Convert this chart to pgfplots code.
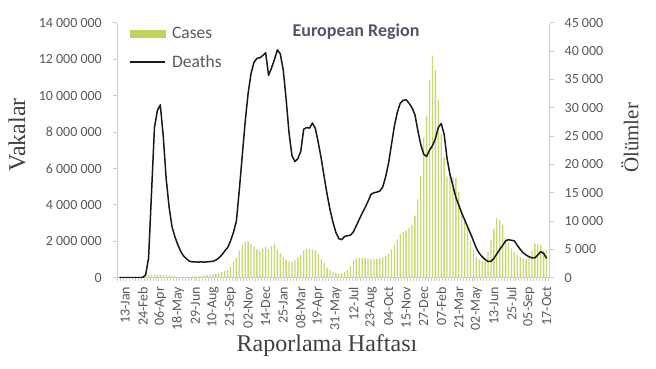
\documentclass[border=0pt]{standalone}
\usepackage{pgfplots}
\pgfplotsset{compat=1.18}
\usepackage{pgfplotstable}
\usepackage{fontspec}
\setmainfont{Carlito}
\newfontfamily\serifaxis{Liberation Serif}
\definecolor{casegreen}{RGB}{190,214,96}
\definecolor{tickgray}{RGB}{89,89,89}
\definecolor{axisgray}{RGB}{205,205,205}
\definecolor{labelgray}{RGB}{64,64,64}
\definecolor{titlecol}{RGB}{80,86,100}

\pgfplotstableread{
week cases deaths
-2 0 0
-1 1000 0
0 2000 0
1 3000 0
2 5000 0
3 8000 0
4 15000 0
5 40000 0
6 80000 50
7 120000 500
8 150000 3500
9 170000 15000
10 180000 26500
11 175000 29500
12 160000 30500
13 140000 25000
14 130000 17500
15 110000 12500
16 90000 9000
17 75000 7200
18 65000 5800
19 60000 4600
20 60000 3800
21 60000 3300
22 65000 2900
23 70000 2800
24 75000 2800
25 85000 2750
26 100000 2800
27 120000 2750
28 140000 2800
29 160000 2850
30 190000 2900
31 230000 3100
32 280000 3500
33 330000 4000
34 380000 4700
35 420000 5300
36 600000 6500
37 850000 8000
38 1100000 10000
39 1500000 15500
40 1800000 21500
41 1950000 27500
42 1980000 32500
43 1850000 36000
44 1700000 38000
45 1550000 38700
46 1500000 38800
47 1600000 39200
48 1700000 39700
49 1550000 35700
50 1750000 37000
51 1880000 38500
52 1550000 40200
53 1350000 39500
54 1150000 36700
55 1000000 31500
56 880000 25500
57 870000 21500
58 950000 20500
59 1100000 21000
60 1250000 22300
61 1500000 26200
62 1580000 26500
63 1600000 26400
64 1550000 27300
65 1500000 26300
66 1300000 23800
67 1000000 21000
68 780000 17800
69 550000 14700
70 420000 12000
71 330000 9800
72 250000 8000
73 230000 6900
74 240000 6700
75 300000 7300
76 420000 7400
77 650000 7500
78 950000 8100
79 1050000 9200
80 1080000 10300
81 1070000 11400
82 1080000 12400
83 1050000 13500
84 1000000 14700
85 1020000 15000
86 1050000 15100
87 1070000 15300
88 1100000 16000
89 1200000 17800
90 1340000 20200
91 1550000 23500
92 1800000 26800
93 2100000 29200
94 2400000 30800
95 2500000 31300
96 2600000 31400
97 2750000 30800
98 2900000 30000
99 3400000 28800
100 4300000 26000
101 5600000 23500
102 7700000 21800
103 8900000 21400
104 10850000 22500
105 12150000 23300
106 11400000 24500
107 9750000 26500
108 7900000 27200
109 6600000 25300
110 5550000 21000
111 5550000 18200
112 5550000 16200
113 5500000 14200
114 4700000 12800
115 3700000 11400
116 3200000 10200
117 2800000 9000
118 2000000 7800
119 1500000 6500
120 1150000 5200
121 1000000 4300
122 880000 3700
123 880000 3200
124 1430000 2850
125 2070000 2900
126 2700000 3400
127 3260000 4200
128 3170000 5000
129 2900000 5700
130 2200000 6500
131 1890000 6700
132 1600000 6600
133 1400000 6500
134 1250000 5700
135 1150000 5000
136 1050000 4400
137 1000000 4000
138 1100000 3700
139 1500000 3500
140 1890000 3500
141 1850000 4000
142 1800000 4600
143 1500000 4300
144 1500000 3400
}\data

\pgfplotsset{
  common/.style={
    at={(0pt,0pt)}, anchor=south west,
    scale only axis, width=432.5pt, height=255pt,
    xmin=-2.8, xmax=145, ymin=0,
    enlargelimits=false,
    axis line style={axisgray, line width=0.8pt},
    tick align=outside, major tick length=4pt,
    tick style={axisgray, line width=0.8pt},
    /pgf/number format/assume math mode=true,
    scaled y ticks=false,
    yticklabel style={font=\fontsize{14}{16}\selectfont, text=tickgray, inner sep=0pt,
      /pgf/number format/.cd, fixed, precision=0, 1000 sep={\hspace{0.22em}}},
    yticklabel shift=11pt,
  }
}

\begin{document}
\begin{tikzpicture}
\useasboundingbox (-117pt,-91.3pt) rectangle (539pt,277.7pt);
\begin{axis}[
  common,
  ymax=14000000,
  axis y line*=left, axis x line*=bottom,
  ytick={0,2000000,4000000,6000000,8000000,10000000,12000000,14000000},
  xtick={0,6,...,144},
  xticklabels={13-Jan,24-Feb,06-Apr,18-May,29-Jun,10-Aug,21-Sep,02-Nov,14-Dec,25-Jan,08-Mar,19-Apr,31-May,12-Jul,23-Aug,04-Oct,15-Nov,27-Dec,07-Feb,21-Mar,02-May,13-Jun,25-Jul,05-Sep,17-Oct},
  xticklabel style={rotate=90, anchor=east, inner sep=0pt, font=\fontsize{14}{16}\selectfont, text=tickgray},
  xticklabel shift=5pt,
  every major x tick/.append style={draw=none},
  minor xtick={-2.5,-1.5,...,144.5},
  minor tick length=3pt,
]
\addplot[ybar, bar width=0.45, fill=casegreen!90, draw=none] table[x=week,y=cases]{\data};
\end{axis}
\begin{axis}[
  common,
  ymax=45000,
  axis y line*=right, axis x line=none,
  ytick={0,5000,...,45000},
  legend style={at={(axis description cs:0.028,0.99)}, anchor=north west, draw=none, fill=none,
    font=\fontsize{17.5}{19}\selectfont, text=tickgray, row sep=11pt, inner sep=0pt},
  legend cell align=left,
]
\addlegendimage{legend image code/.code={\path[draw=none,fill=none] (0pt,-3.5pt) rectangle (40pt,3.5pt);\fill[casegreen] (0pt,-3.5pt) rectangle (35pt,3.5pt);}}
\addlegendentry{Cases}
\addplot[black!90, line width=1.5pt, line join=round,
  legend image code/.code={\path[draw=none,fill=none] (0pt,-3.5pt) rectangle (40pt,3.5pt);\draw[black!90, line width=1.5pt] (0pt,0pt) -- (35pt,0pt);}]
  table[x=week,y=deaths]{\data};
\addlegendentry{Deaths}
\end{axis}
\node[font=\serifaxis\fontsize{24}{26}\selectfont, text=labelgray, rotate=90] at (-100pt,142.7pt) {Vakalar};
\node[font=\serifaxis\fontsize{21}{23}\selectfont, text=labelgray, rotate=90] at (513pt,139.7pt) {Ölümler};
\node[font=\serifaxis\fontsize{24}{26}\selectfont, text=labelgray] at (210pt,-68.3pt) {Raporlama Haftası};
\node[font=\bfseries\fontsize{18}{20}\selectfont, text=titlecol] at (239pt,245.5pt) {European Region};
\end{tikzpicture}
\end{document}
